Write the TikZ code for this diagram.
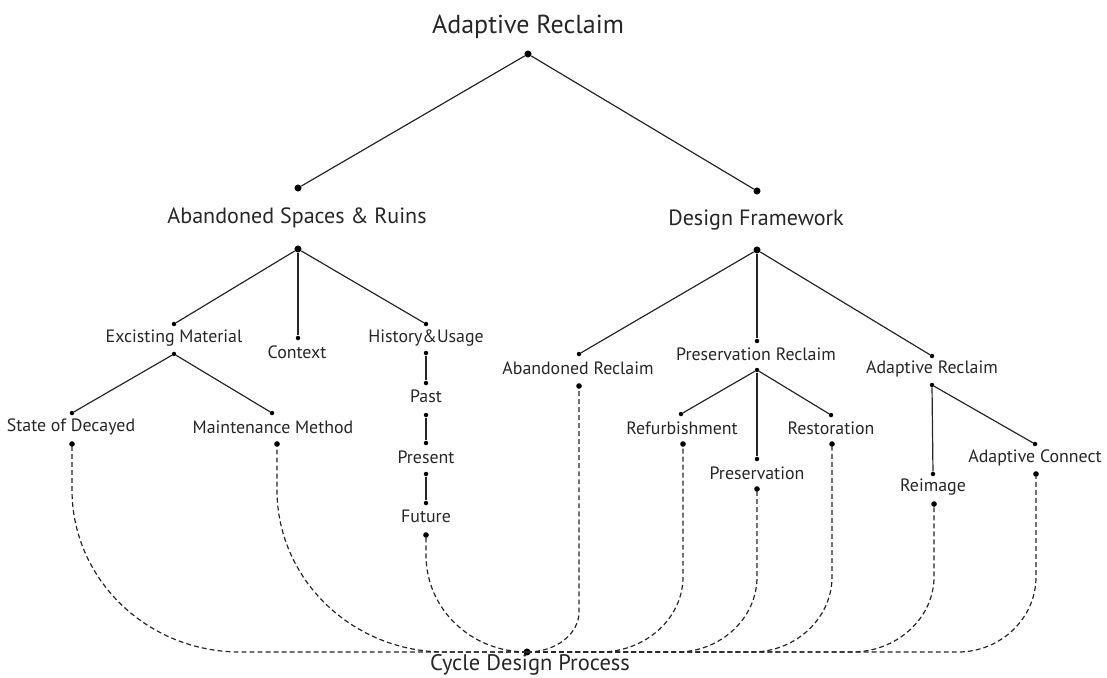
\documentclass[tikz,border=0pt]{standalone}
\usepackage{fontspec}
\setmainfont{PT Sans}
\definecolor{ink}{HTML}{262626}
\tikzset{
    term/.style={inner sep=0, text=ink},
    heading/.style={style=term, font=\fontsize{18.5}{21}\selectfont}, % the root
    topic/.style={style=term, font=\fontsize{15.7}{18}\selectfont}, % the two main branches
    entry/.style={style=term, font=\fontsize{12.7}{15}\selectfont}, % the small ones
    joint/.style={circle, fill=black, inner sep=0, minimum size=3.2pt},
    bigjoint/.style={style=joint, minimum size=5pt},
    branch/.style={draw=ink, line width=0.85pt},
    loopback/.style={style=branch, dash pattern=on 3.5pt off 2.2pt} % back to the cycle
}

\begin{document}
\begin{tikzpicture}[x=0.025cm, y=-0.025cm]
  \useasboundingbox (0, 0) rectangle (1107, 678);

  % texts
  \node[heading] (adaptive) at (528, 27) {Adaptive Reclaim};
  \node[topic] (abandoned) at (297, 218) {Abandoned Spaces \& Ruins};
  \node[topic] (framework) at (756, 220) {Design Framework};
  \node[entry] (material) at (174, 338) {Excisting Material};
  \node[entry] (context) at (297, 352) {Context};
  \node[entry] (history) at (426, 338) {History\&Usage};
  \node[entry] (past) at (426, 396) {Past};
  \node[entry] (present) at (426, 457) {Present};
  \node[entry] (future) at (426, 516) {Future};
  \node[entry] (decayed) at (71, 427) {State of Decayed};
  \node[entry] (maintenance) at (273, 427) {Maintenance Method};
  \node[entry] (a_reclaim) at (578, 368) {Abandoned Reclaim};
  \node[entry] (p_reclaim) at (756, 354) {Preservation Reclaim};
  \node[entry] (ad_reclaim) at (932, 369) {Adaptive Reclaim};
  \node[entry] (refurb) at (682, 428) {Refurbishment};
  \node[entry] (restor) at (831, 428) {Restoration};
  \node[entry] (preserv) at (757, 473) {Preservation};
  \node[entry] (reimage) at (933, 487) {Reimage};
  \node[entry] (connect) at (1035, 458) {Adaptive Connect};
  \node[topic, font=\fontsize{16}{18}\selectfont] (cycle) at (530, 665) {Cycle Design Process};

  % dots
  \node[bigjoint] (adaptive_b) at (528, 54) {};
  \node[bigjoint] (abandoned_t) at (298, 188) {};
  \node[bigjoint] (abandoned_b) at (298, 249) {};
  \node[bigjoint] (framework_t) at (757, 191) {};
  \node[bigjoint] (framework_b) at (757, 250) {};
  \node[joint] (material_t) at (174, 324) {};
  \node[joint] (material_b) at (174, 354) {};
  \node[joint] (context_t) at (298, 338) {};
  \node[joint] (history_t) at (426, 324) {};
  \node[joint] (history_b) at (426, 353) {};
  \node[joint] (past_t) at (426, 383) {};
  \node[joint] (past_b) at (426, 415) {};
  \node[joint] (present_t) at (426, 443) {};
  \node[joint] (present_b) at (426, 474) {};
  \node[joint] (future_t) at (426, 503) {};
  \node[joint, minimum size=4pt] (future_b) at (426, 535) {};
  \node[joint] (decayed_t) at (72, 413) {};
  \node[joint, minimum size=4pt] (decayed_b) at (72, 444) {};
  \node[joint] (maintenance_t) at (272, 413) {};
  \node[joint, minimum size=4pt] (maintenance_b) at (277, 444) {};
  \node[joint] (a_reclaim_t) at (579, 354) {};
  \node[joint, minimum size=4pt] (a_reclaim_b) at (579, 386) {};
  \node[joint] (p_reclaim_t) at (757, 341) {};
  \node[joint] (p_reclaim_b) at (757, 370) {};
  \node[joint] (ad_reclaim_t) at (932, 356) {};
  \node[joint] (ad_reclaim_b) at (932, 385) {};
  \node[joint] (refurb_t) at (681, 414) {};
  \node[joint, minimum size=4pt] (refurb_b) at (683, 444) {};
  \node[joint] (restor_t) at (831, 415) {};
  \node[joint, minimum size=4pt] (restor_b) at (832, 444) {};
  \node[joint] (preserv_t) at (757, 459) {};
  \node[joint, minimum size=4pt] (preserv_b) at (757, 489) {};
  \node[joint] (reimage_t) at (933, 474) {};
  \node[joint, minimum size=4pt] (reimage_b) at (934, 504) {};
  \node[joint] (connect_t) at (1035, 444) {};
  \node[joint, minimum size=4pt] (connect_b) at (1036, 474) {};
  \node[bigjoint] (cycle_t) at (527, 652) {};

  % tree
  \draw[branch] (adaptive_b) -- (abandoned_t);
  \draw[branch] (adaptive_b) -- (framework_t);
  \draw[branch] (abandoned_b) -- (material_t);
  \draw[branch] (abandoned_b) -- (context_t);
  \draw[branch] (abandoned_b) -- (history_t);
  \draw[branch] (material_b) -- (decayed_t);
  \draw[branch] (material_b) -- (maintenance_t);
  \draw[branch] (history_b) -- (past_t);
  \draw[branch] (past_b) -- (present_t);
  \draw[branch] (present_b) -- (future_t);
  \draw[branch] (framework_b) -- (a_reclaim_t);
  \draw[branch] (framework_b) -- (p_reclaim_t);
  \draw[branch] (framework_b) -- (ad_reclaim_t);
  \draw[branch] (p_reclaim_b) -- (refurb_t);
  \draw[branch] (p_reclaim_b) -- (preserv_t);
  \draw[branch] (p_reclaim_b) -- (restor_t);
  \draw[branch] (ad_reclaim_b) -- (reimage_t);
  \draw[branch] (ad_reclaim_b) -- (connect_t);

  % dashed returns, all drawn from the cycle dot so the dashes line up
  \draw[loopback] (cycle_t.center) -- (240, 652) .. controls (147, 652) and (72, 579) .. (72, 490) -- (decayed_b);
  \draw[loopback] (cycle_t.center) -- (445, 652) .. controls (352, 652) and (277, 579) .. (277, 490) -- (maintenance_b);
  \draw[loopback] (cycle_t.center) .. controls (471, 652) and (426, 609) .. (426, 555) -- (future_b);
  \draw[loopback] (cycle_t.center) .. controls (556, 652) and (579, 634) .. (579, 612) -- (a_reclaim_b);
  \draw[loopback] (cycle_t.center) -- (600, 652) .. controls (646, 652) and (683, 618) .. (683, 577) -- (refurb_b);
  \draw[loopback] (cycle_t.center) -- (677, 652) .. controls (721, 652) and (757, 618) .. (757, 577) -- (preserv_b);
  \draw[loopback] (cycle_t.center) -- (752, 652) .. controls (796, 652) and (832, 618) .. (832, 577) -- (restor_b);
  \draw[loopback] (cycle_t.center) -- (852, 652) .. controls (897, 652) and (934, 618) .. (934, 577) -- (reimage_b);
  \draw[loopback] (cycle_t.center) -- (958, 652) .. controls (1001, 652) and (1036, 618) .. (1036, 577) -- (connect_b);
\end{tikzpicture}
\end{document}
